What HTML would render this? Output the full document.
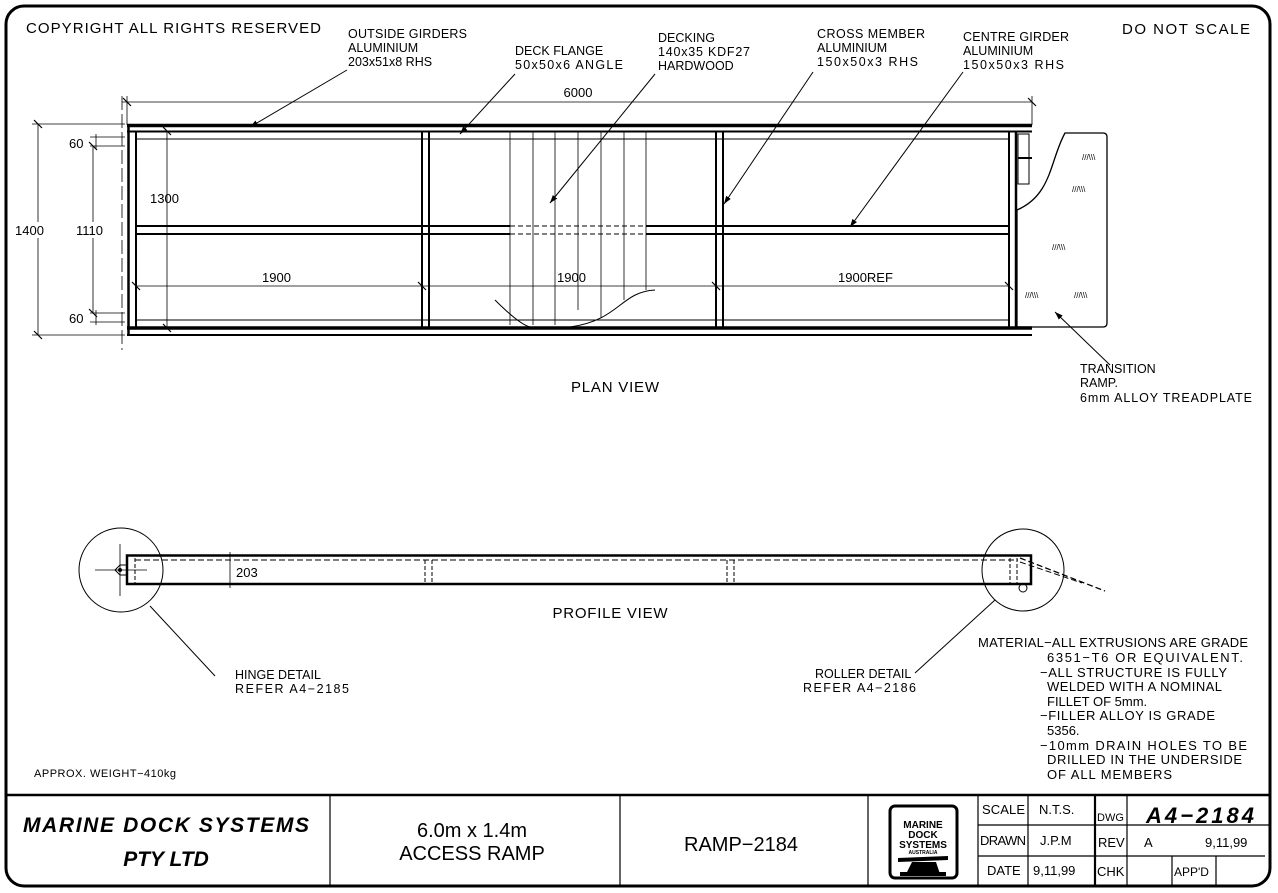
<!DOCTYPE html>
<html><head><meta charset="utf-8"><style>
html,body{margin:0;padding:0;background:#fff}
svg{display:block}
text{font-family:"Liberation Sans",sans-serif;fill:#000}
</style></head><body>
<svg width="1278" height="893" viewBox="0 0 1278 893" xmlns="http://www.w3.org/2000/svg">
<defs><marker id="a" viewBox="0 0 10 10" refX="10" refY="5" markerWidth="8" markerHeight="8" orient="auto-start-reverse" markerUnits="userSpaceOnUse"><path d="M0 1.5L10 5L0 8.5Z" fill="#000"/></marker></defs>
<rect x="6" y="6" width="1264" height="880" rx="18" fill="none" stroke="#000" stroke-width="3"/>
<line x1="6" y1="795" x2="1270" y2="795" stroke="#000" stroke-width="2.5"/>
<g stroke="#000" stroke-width="1.2">
<line x1="330" y1="795" x2="330" y2="886"/><line x1="620" y1="795" x2="620" y2="886"/>
<line x1="868" y1="795" x2="868" y2="886"/><line x1="978" y1="795" x2="978" y2="886"/>
<line x1="1028" y1="795" x2="1028" y2="886"/>
<line x1="1095" y1="795" x2="1095" y2="886" stroke-width="2.2"/>
<line x1="1127" y1="795" x2="1127" y2="886"/>
<line x1="978" y1="825" x2="1270" y2="825"/><line x1="978" y1="856" x2="1265" y2="856"/>
<line x1="1172" y1="856" x2="1172" y2="886"/><line x1="1216" y1="856" x2="1216" y2="886"/>
</g>
<rect x="890" y="806" width="67" height="72" rx="5" fill="none" stroke="#000" stroke-width="3"/>
<text x="923" y="828" font-size="10" font-weight="bold" text-anchor="middle">MARINE</text>
<text x="923" y="838" font-size="10" font-weight="bold" text-anchor="middle">DOCK</text>
<text x="923" y="848" font-size="10" font-weight="bold" text-anchor="middle">SYSTEMS</text>
<text x="923" y="854" font-size="5" font-weight="bold" text-anchor="middle">AUSTRALIA</text>
<path d="M898 858 L948 856 L948 860 L898 862Z M912 862 L936 862 L940 874 L906 874Z M900 872 L946 872 L946 876 L900 876Z" fill="#000"/>
<g font-size="13">
<text x="982" y="814" textLength="43">SCALE</text><text x="1039" y="814">N.T.S.</text>
<text x="980" y="845" textLength="46">DRAWN</text><text x="1040" y="845">J.P.M</text>
<text x="987" y="875">DATE</text><text x="1033" y="875">9,11,99</text>
<text x="1097" y="821" font-size="11">DWG</text>
<text x="1098" y="847">REV</text><text x="1144" y="847">A</text><text x="1205" y="847">9,11,99</text>
<text x="1097" y="876">CHK</text><text x="1174" y="876" font-size="12">APP'D</text>
</g>
<text x="1200" y="823" font-size="22" font-weight="bold" font-style="italic" text-anchor="middle" textLength="108">A4−2184</text>
<text x="166" y="832" font-size="21" font-weight="bold" font-style="italic" text-anchor="middle" textLength="286">MARINE DOCK SYSTEMS</text>
<text x="166" y="866" font-size="21" font-weight="bold" font-style="italic" text-anchor="middle">PTY LTD</text>
<text x="472" y="837" font-size="20" text-anchor="middle">6.0m x 1.4m</text>
<text x="472" y="860" font-size="20" text-anchor="middle">ACCESS RAMP</text>
<text x="741" y="851" font-size="20" text-anchor="middle">RAMP−2184</text>
<text x="34" y="777" font-size="11" textLength="142">APPROX. WEIGHT−410kg</text>
<text x="26" y="33" font-size="15" textLength="295">COPYRIGHT ALL RIGHTS RESERVED</text>
<text x="1250" y="34" font-size="15" text-anchor="end" textLength="128">DO NOT SCALE</text>
<g font-size="12.5">
<text x="348" y="38" textLength="119">OUTSIDE GIRDERS</text><text x="348" y="52">ALUMINIUM</text><text x="348" y="66">203x51x8 RHS</text>
<text x="515" y="55">DECK FLANGE</text><text x="515" y="69" textLength="108">50x50x6 ANGLE</text>
<text x="658" y="42">DECKING</text><text x="658" y="56" textLength="92">140x35 KDF27</text><text x="658" y="70">HARDWOOD</text>
<text x="817" y="38" textLength="108">CROSS MEMBER</text><text x="817" y="52">ALUMINIUM</text><text x="817" y="66" textLength="101">150x50x3 RHS</text>
<text x="963" y="41" textLength="106">CENTRE GIRDER</text><text x="963" y="55">ALUMINIUM</text><text x="963" y="69" textLength="101">150x50x3 RHS</text>
<text x="1080" y="373">TRANSITION</text><text x="1080" y="387">RAMP.</text><text x="1080" y="402" textLength="172">6mm ALLOY TREADPLATE</text>
<text x="235" y="679">HINGE DETAIL</text><text x="235" y="693" textLength="114">REFER A4−2185</text>
<text x="815" y="678">ROLLER DETAIL</text><text x="803" y="692" textLength="113">REFER A4−2186</text>
</g>
<g font-size="13">
<text x="978" y="647" textLength="270">MATERIAL−ALL EXTRUSIONS ARE GRADE</text>
<text x="1047" y="662" textLength="196">6351−T6 OR EQUIVALENT.</text>
<text x="1040" y="677" textLength="187">−ALL STRUCTURE IS FULLY</text>
<text x="1047" y="691" textLength="175">WELDED WITH A NOMINAL</text>
<text x="1047" y="706">FILLET OF 5mm.</text>
<text x="1040" y="720" textLength="175">−FILLER ALLOY IS GRADE</text>
<text x="1047" y="735">5356.</text>
<text x="1040" y="750" textLength="207">−10mm DRAIN HOLES TO BE</text>
<text x="1047" y="764" textLength="195">DRILLED IN THE UNDERSIDE</text>
<text x="1047" y="779" textLength="125">OF ALL MEMBERS</text>
</g>
<text x="615" y="392" font-size="15" text-anchor="middle" textLength="88">PLAN VIEW</text>
<text x="610" y="618" font-size="15" text-anchor="middle" textLength="115">PROFILE VIEW</text>
<g stroke="#000" fill="none">
<line x1="127" y1="125.5" x2="1032" y2="125.5" stroke-width="3.5"/>
<line x1="127" y1="131.5" x2="1032" y2="131.5" stroke-width="2"/>
<line x1="135" y1="139" x2="1010" y2="139" stroke-width="1"/>
<line x1="127" y1="328" x2="1032" y2="328" stroke-width="3.5"/>
<line x1="127" y1="335" x2="1032" y2="335" stroke-width="2"/>
<line x1="135" y1="320" x2="1010" y2="320" stroke-width="1"/>
<line x1="128.5" y1="125" x2="128.5" y2="336" stroke-width="2.5"/>
<line x1="136" y1="132" x2="136" y2="327" stroke-width="2"/>
<line x1="422" y1="132" x2="422" y2="327" stroke-width="2"/><line x1="429" y1="132" x2="429" y2="327" stroke-width="2"/>
<line x1="716" y1="132" x2="716" y2="327" stroke-width="2"/><line x1="723" y1="132" x2="723" y2="327" stroke-width="2"/>
<line x1="1009" y1="132" x2="1009" y2="327" stroke-width="2"/><line x1="1016" y1="132" x2="1016" y2="327" stroke-width="2.5"/>
<line x1="136" y1="226" x2="510" y2="226" stroke-width="2"/><line x1="136" y1="234" x2="510" y2="234" stroke-width="2"/>
<line x1="646" y1="226" x2="1009" y2="226" stroke-width="2"/><line x1="646" y1="234" x2="1009" y2="234" stroke-width="2"/>
<line x1="510" y1="226" x2="646" y2="226" stroke-dasharray="5,3"/><line x1="510" y1="234" x2="646" y2="234" stroke-dasharray="5,3"/>
<line x1="510" y1="139" x2="646" y2="139" stroke-dasharray="5,3"/>
<line x1="510" y1="320" x2="580" y2="320" stroke-dasharray="3,3"/>
<g stroke-width="0.8"><line x1="510" y1="131" x2="510" y2="325"/><line x1="533" y1="131" x2="533" y2="325"/><line x1="555" y1="131" x2="555" y2="325"/><line x1="578" y1="131" x2="578" y2="310"/><line x1="601" y1="131" x2="601" y2="318"/><line x1="624" y1="131" x2="624" y2="300"/><line x1="646" y1="131" x2="646" y2="290"/></g>
<path d="M495 300 C510 315 522 325 530 327 L570 327 C620 320 620 292 655 290" stroke-width="1"/>
<g stroke-width="0.8">
<line x1="122" y1="102" x2="1032" y2="102"/><line x1="127" y1="96" x2="127" y2="125"/><line x1="1032" y1="96" x2="1032" y2="125"/>
<line x1="122" y1="96" x2="122" y2="350" stroke-dasharray="14,4"/>
<line x1="32" y1="124" x2="125" y2="124"/><line x1="32" y1="335" x2="125" y2="335"/>
<line x1="38" y1="124" x2="38" y2="222"/><line x1="38" y1="238" x2="38" y2="335"/>
<line x1="93" y1="146" x2="93" y2="222"/><line x1="93" y1="238" x2="93" y2="313"/>
<line x1="90" y1="137" x2="125" y2="137"/><line x1="90" y1="146" x2="125" y2="146"/>
<line x1="90" y1="313" x2="125" y2="313"/><line x1="90" y1="322" x2="125" y2="322"/>
<line x1="96" y1="134" x2="96" y2="149"/><line x1="96" y1="310" x2="96" y2="325"/>
<line x1="167" y1="131" x2="167" y2="328"/>
<line x1="136" y1="286" x2="1009" y2="286"/>
</g>
<g stroke-width="1.2"><path d="M34 120l8 8M34 331l8 8M89 142l8 8M89 309l8 8M163 127l8 8M163 324l8 8M132 282l8 8M418 282l8 8M712 282l8 8M1005 282l8 8M123 98l8 8M1028 98l8 8"/></g>
<g stroke-width="1" marker-end="url(#a)">
<line x1="347" y1="70" x2="250" y2="127"/><line x1="515" y1="74" x2="460" y2="134"/>
<line x1="655" y1="74" x2="550" y2="203"/><line x1="813" y1="72" x2="724" y2="204"/>
<line x1="963" y1="72" x2="850" y2="227"/><line x1="1110" y1="365" x2="1055" y2="312"/>
</g>
<g stroke-width="1">
<line x1="215" y1="676" x2="150" y2="606"/><line x1="915" y1="673" x2="995" y2="600"/>
</g>
<path d="M1017 210 L1017 327 L1103 327 Q1107 327 1107 323 L1107 137 Q1107 133 1103 133 L1065 133 C1050 160 1052 195 1017 210Z" stroke-width="1.3"/>
<rect x="1018" y="134" width="11" height="50" stroke-width="1"/><line x1="1018" y1="158" x2="1032" y2="158" stroke-width="2"/>
<rect x="127" y="555.5" width="904" height="28.5" stroke-width="2.5"/>
<line x1="135" y1="560" x2="1018" y2="560" stroke-dasharray="6,3"/>
<line x1="135" y1="558" x2="135" y2="583" stroke-dasharray="4,2"/>
<line x1="425" y1="560" x2="425" y2="584" stroke-dasharray="4,2"/><line x1="432" y1="560" x2="432" y2="584" stroke-dasharray="4,2"/>
<line x1="727" y1="560" x2="727" y2="584" stroke-dasharray="4,2"/><line x1="734" y1="560" x2="734" y2="584" stroke-dasharray="4,2"/>
<line x1="1010" y1="558" x2="1010" y2="584" stroke-dasharray="4,2"/><line x1="1017" y1="558" x2="1017" y2="584" stroke-dasharray="4,2"/>
<line x1="230" y1="552" x2="230" y2="588" stroke-width="0.8"/>
<circle cx="121" cy="570" r="42" stroke-width="1"/>
<circle cx="1023" cy="570" r="41" stroke-width="1"/>
<line x1="95" y1="570" x2="147" y2="570" stroke-width="0.8"/><line x1="120" y1="544" x2="120" y2="596" stroke-width="0.8"/>
<path d="M115 570 L120 565 L127 565 L127 575 L120 575Z" stroke-width="1"/><circle cx="120" cy="570" r="1.5" fill="#000"/>
<line x1="1020" y1="558" x2="1105" y2="591" stroke-dasharray="6,3" stroke-width="1.3"/>
<line x1="1020" y1="562" x2="1082" y2="583" stroke-dasharray="6,3" stroke-width="1"/>
<circle cx="1023" cy="588" r="4" stroke-width="1"/>
</g>
<text x="578" y="97" font-size="13" text-anchor="middle">6000</text>
<text x="15" y="235" font-size="13">1400</text><text x="76" y="235" font-size="13">1110</text>
<text x="69" y="148" font-size="13">60</text><text x="69" y="323" font-size="13">60</text>
<text x="150" y="203" font-size="13">1300</text>
<text x="262" y="282" font-size="13">1900</text><text x="557" y="282" font-size="13">1900</text>
<text x="838" y="282" font-size="13">1900REF</text>
<text x="236" y="577" font-size="13">203</text>
<g font-size="8" fill="#555"><text x="1082" y="160">///\\\</text><text x="1072" y="192">///\\\</text><text x="1052" y="250">///\\\</text><text x="1025" y="298">///\\\</text><text x="1074" y="298">///\\\</text></g>
</svg>
</body></html>
